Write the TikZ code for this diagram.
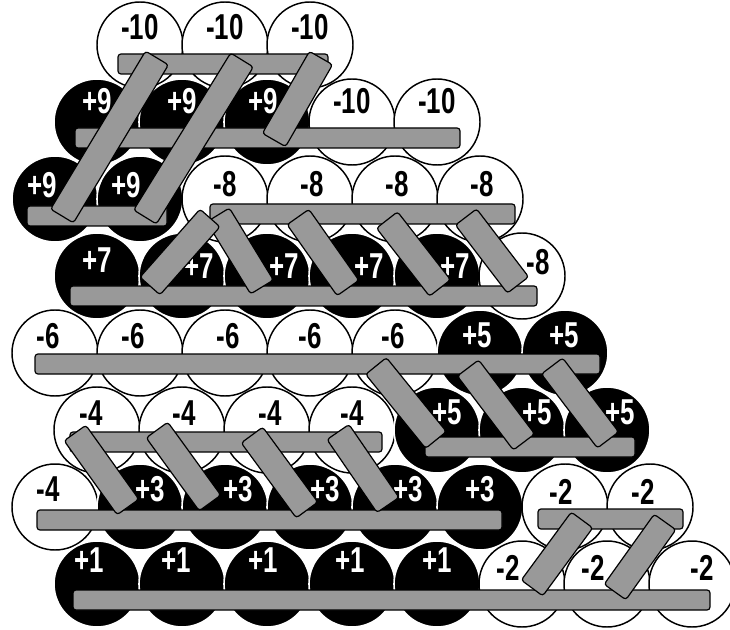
\documentclass[tikz,border=0pt]{standalone}
\usepackage{fontspec}
\newfontfamily\beadfont{Liberation Sans}[FakeStretch=0.72]
\usetikzlibrary{calc}

% gray stick between two end points (centre line)
\newcommand{\stick}[2]{%
  \draw[rod] ($(#1)!10pt!90:(#2)$) -- ($(#2)!10pt!-90:(#1)$)
    -- ($(#2)!10pt!90:(#1)$) -- ($(#1)!10pt!-90:(#2)$) -- cycle;}

\begin{document}
\begin{tikzpicture}[x=0.75pt,y=-0.75pt,
  dark bead/.style={fill=black,draw=white,line width=1.2pt},
  light bead/.style={fill=white,draw=black,line width=1.1pt},
  dark label/.style={text=white},
  light label/.style={text=black},
  beadlabel/.style={inner sep=0pt,font=\beadfont\bfseries\fontsize{27}{27}\selectfont},
  rod/.style={fill=black!40,draw=black,line width=0.9pt,rounded corners=2.2pt}]
  \useasboundingbox (0,0) rectangle (730,630);

  % beads: x / y / colour / text / label x / label y
  \foreach \x/\y/\s/\t/\lx/\ly in {
      140/45/light/-10/140/27, 225/45/light/-10/225/27, 310/45/light/-10/310/27,
      97/122/dark/+9/97/101, 182/122/dark/+9/182/101, 267/122/dark/+9/263/101,
      352/122/light/-10/352/101, 437/122/light/-10/437/101,
      55/199/dark/+9/42/185, 140/199/dark/+9/126/185, 225/199/light/-8/225/184,
      310/199/light/-8/312/184, 395/199/light/-8/397/184, 480/199/light/-8/482/184,
      97/276/dark/+7/97/260, 182/276/dark/+7/199/266, 267/276/dark/+7/284/266,
      352/276/dark/+7/369/266, 437/276/dark/+7/455/266, 522/276/light/-8/538/262,
      55/353/light/-6/48/336, 140/353/light/-6/133/336, 225/353/light/-6/228/336,
      310/353/light/-6/310/336, 395/353/light/-6/393/336,
      480/353/dark/+5/477/335, 565/353/dark/+5/564/335,
      97/430/light/-4/91/413, 182/430/light/-4/184/413, 267/430/light/-4/270/413,
      352/430/light/-4/352/413, 437/430/dark/+5/447/412, 522/430/dark/+5/537/412,
      607/430/dark/+5/620/412,
      55/507/light/-4/48/489, 140/507/dark/+3/150/489, 225/507/dark/+3/238/489,
      310/507/dark/+3/325/489, 395/507/dark/+3/408/489, 480/507/dark/+3/480/489,
      565/507/light/-2/561/492, 650/507/light/-2/643/492,
      97/584/dark/+1/89/560, 182/584/dark/+1/176/560, 267/584/dark/+1/263/560,
      352/584/dark/+1/350/560, 437/584/dark/+1/437/560,
      522/584/light/-2/508/568, 607/584/light/-2/593/568, 692/584/light/-2/702/568}{
    \draw[\s\space bead] (\x,\y) circle (43);
    \node[beadlabel,\s\space label] (bead-\x-\y) at (\lx,\ly) {\t};
  }

  % horizontal sticks
  \draw[rod] (118,54) rectangle (328,74);
  \draw[rod] (75,128) rectangle (460,148);
  \draw[rod] (27,206) rectangle (167,226);
  \draw[rod] (210,204) rectangle (515,224);
  \draw[rod] (70,286) rectangle (537,306);
  \draw[rod] (35,354) rectangle (600,374);
  \draw[rod] (70,432) rectangle (382,452);
  \draw[rod] (425,437) rectangle (635,457);
  \draw[rod] (37,510) rectangle (502,530);
  \draw[rod] (538,509) rectangle (683,529);
  \draw[rod] (73,590) rectangle (710,610);

  % slanted sticks
  \stick{157,58}{62,216}
  \stick{242,60}{145,217}
  \stick{321,58}{274,140}
  \stick{218,215}{262,287}
  \stick{298,217}{348,288}
  \stick{387,220}{440,288}
  \stick{466,217}{518,285}
  \stick{210,218}{150,286}
  \stick{376,366}{436,440}
  \stick{468,368}{524,442}
  \stick{552,366}{608,440}
  \stick{75,433}{128,507}
  \stick{157,430}{210,503}
  \stick{252,435}{307,510}
  \stick{338,432}{388,505}
  \stick{582,520}{532,588}
  \stick{665,522}{615,592}
\end{tikzpicture}
\end{document}
